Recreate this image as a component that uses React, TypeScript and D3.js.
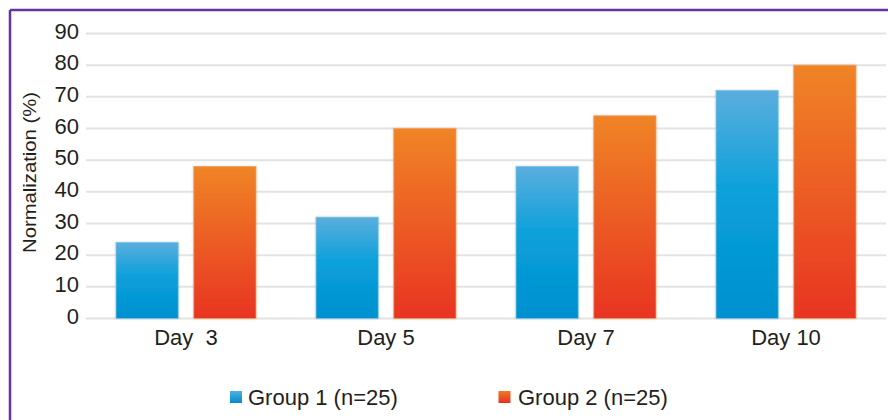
import React from "react";
import * as d3 from "d3";

const categories = ["Day  3", "Day 5", "Day 7", "Day 10"];
const group1 = [24, 32, 48, 72];
const group2 = [48, 60, 64, 80];
const seriesNames = ["Group 1 (n=25)", "Group 2 (n=25)"];
const yTicks = [0, 10, 20, 30, 40, 50, 60, 70, 80, 90];

const W = 888;
const H = 420;
const FONT = "'Liberation Sans', Arial, sans-serif";
const TEXT = "#231f20";

export default function App() {
  const x = d3.scaleBand<string>().domain(categories).range([86, 886]).paddingInner(0).paddingOuter(0);
  const y = d3.scaleLinear().domain([0, 90]).range([318.5, 33.5]);
  const sub = d3.scaleBand<string>().domain(["g1", "g2"]).range([30, 170]).paddingInner(0.2).paddingOuter(0);
  const series = [
    { key: "g1", values: group1, fill: "url(#gBlue)", stroke: "#7cc4ea" },
    { key: "g2", values: group2, fill: "url(#gOrange)", stroke: "#f3a05c" },
  ];
  return (
    <svg width={W} height={H} style={{ position: "absolute", left: 0, top: 0, background: "#fff" }} fontFamily={FONT}>
      <defs>
        <linearGradient id="gBlue" x1="0" y1="0" x2="0" y2="1">
          <stop offset="0" stopColor="#5aaedd" />
          <stop offset="0.45" stopColor="#0aa0da" />
          <stop offset="1" stopColor="#0090cf" />
        </linearGradient>
        <linearGradient id="gOrange" x1="0" y1="0" x2="0" y2="1">
          <stop offset="0" stopColor="#f08425" />
          <stop offset="1" stopColor="#e83424" />
        </linearGradient>
        <linearGradient id="lBlue" x1="0" y1="0" x2="0" y2="1">
          <stop offset="0" stopColor="#4fb0e0" />
          <stop offset="1" stopColor="#008ccc" />
        </linearGradient>
        <linearGradient id="lOrange" x1="0" y1="0" x2="0" y2="1">
          <stop offset="0" stopColor="#f07a25" />
          <stop offset="1" stopColor="#e83020" />
        </linearGradient>
        <filter id="sh" x="-20%" y="-20%" width="140%" height="140%">
          <feDropShadow dx="0" dy="0" stdDeviation="1.2" floodColor="#000" floodOpacity="0.18" />
        </filter>
      </defs>
      <rect x={0} y={0} width={W} height={H} fill="#fff" />
      {/* frame */}
      <line x1={10} y1={10} x2={W} y2={10} stroke="#66339a" strokeWidth={2.5} />
      <line x1={10} y1={10} x2={10} y2={H} stroke="#66339a" strokeWidth={2.5} />
      {/* grid */}
      {yTicks.map((t) => (
        <g key={t}>
          <line x1={86} x2={886} y1={y(t)} y2={y(t)} stroke="#e3e3e3" strokeWidth={2} />
          <text x={79} y={y(t) + 5} textAnchor="end" fontSize={22} fill={TEXT}>
            {t}
          </text>
        </g>
      ))}
      {/* bars */}
      {categories.map((c, i) => (
        <g key={c} transform={`translate(${x(c)},0)`}>
          {series.map((s) => (
            <rect
              key={s.key}
              x={sub(s.key)}
              y={y(s.values[i])}
              width={sub.bandwidth()}
              height={y(0) - y(s.values[i])}
              fill={s.fill}
              stroke={s.stroke}
              strokeWidth={0.8}
              filter="url(#sh)"
            />
          ))}
          <text
            x={x.bandwidth() / 2}
            y={345}
            textAnchor="middle"
            fontSize={22}
            fill={TEXT}
            style={{ whiteSpace: "pre" }}
          >
            {c}
          </text>
        </g>
      ))}
      {/* y title */}
      <text
        transform={`translate(36,172.5) rotate(-90)`}
        textAnchor="middle"
        fontSize={19}
        textLength={161}
        lengthAdjust="spacingAndGlyphs"
        fill={TEXT}
      >
        Normalization (%)
      </text>
      {/* legend */}
      <g>
        <rect x={230} y={391} width={12} height={12} fill="url(#lBlue)" />
        <text x={248} y={405} fontSize={22} fill={TEXT}>
          {seriesNames[0]}
        </text>
        <rect x={498.5} y={391} width={12} height={12} fill="url(#lOrange)" />
        <text x={518} y={405} fontSize={22} fill={TEXT}>
          {seriesNames[1]}
        </text>
      </g>
    </svg>
  );
}
